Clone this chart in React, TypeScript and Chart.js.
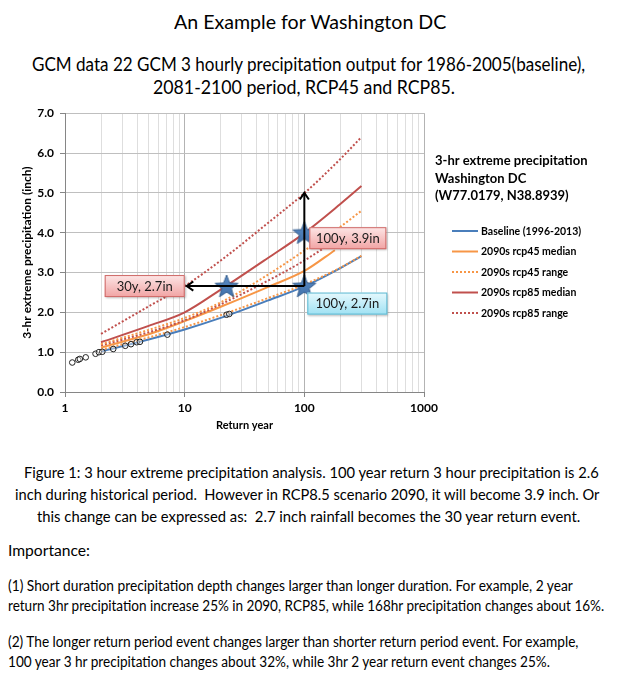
import React, { useEffect, useRef } from 'react';
import { Chart, registerables } from 'chart.js';

Chart.register(...registerables);

// ---------- data ----------
const returnYears = [2, 5, 10, 20, 50, 100, 200, 300];
const returnYearsShort = [2, 5, 10, 20, 50, 100, 180];
const baseline = [1.02, 1.32, 1.57, 1.86, 2.3, 2.65, 3.11, 3.41];
const rcp45Median = [1.12, 1.45, 1.78, 2.14, 2.64, 3.04, 3.56];
const rcp45Upper = [1.2, 1.56, 1.86, 2.25, 2.95, 3.55, 4.15, 4.55];
const rcp45Lower = [1.06, 1.37, 1.63, 1.93, 2.36, 2.7, 3.12, 3.42];
const rcp85Median = [1.25, 1.66, 2.0, 2.57, 3.37, 3.99, 4.72, 5.17];
const rcp85Upper = [1.46, 2.15, 2.66, 3.3, 4.25, 4.99, 5.85, 6.4];
const rcp85Lower = [1.17, 1.5, 1.8, 2.2, 2.8, 3.3, 3.8];
const obsYears = [1.15, 1.29, 1.33, 1.49, 1.8, 1.92, 2.05, 2.53, 3.19, 3.56, 3.97, 4.23, 7.17, 22.4, 23.6];
const obsPrecip = [0.74, 0.81, 0.83, 0.87, 0.96, 1.0, 1.01, 1.08, 1.16, 1.2, 1.25, 1.26, 1.44, 1.94, 1.96];
const starYears = [22.4, 100, 100];
const starPrecip = [2.66, 2.66, 4.0];
const arrowStart = { x: 100, y: 2.66 };
const arrowLeftEnd = { x: 10.4, y: 2.66 };
const arrowUpEnd = { x: 100, y: 5.0 };
const boxLabels = ['30y, 2.7in', '100y, 3.9in', '100y, 2.7in'];
const boxAnchorYears = [10.4, 100, 100];
const boxAnchorPrecip = [2.66, 4.0, 2.66];
const xTickLabels = [1, 10, 100, 1000];
const legendTitle = ['3-hr extreme precipitation', 'Washington DC', '(W77.0179, N38.8939)'];
const legendLabels = ['Baseline (1996-2013)', '2090s rcp45 median', '2090s rcp45 range', '2090s rcp85 median', '2090s rcp85 range'];

const BLUE = '#4a7ebb';
const ORANGE = '#f79646';
const RED = '#c0504d';
const DOT = [2, 2];

const legendStyles = [
  { color: BLUE, dash: [] as number[] },
  { color: ORANGE, dash: [] as number[] },
  { color: ORANGE, dash: DOT },
  { color: RED, dash: [] as number[] },
  { color: RED, dash: DOT },
];

const boxStyles = [
  { dx: -82, dy: -11, w: 80, h: 22, top: '#fde6e6', bottom: '#f1a3a3', stroke: '#cf6a68' },
  { dx: 5, dy: -5.5, w: 77, h: 22, top: '#fde6e6', bottom: '#f1a3a3', stroke: '#cf6a68' },
  { dx: 3, dy: 6.5, w: 80, h: 22, top: '#e6f9fd', bottom: '#9fe1f3', stroke: '#5fb9d3' },
];

const FONT = 'Lato';

// ---------- helpers ----------
const pts = (xs: number[], ys: number[]) => xs.map((x, i) => ({ x, y: ys[i] }));

function makeStar(r: number) {
  const c = document.createElement('canvas');
  const size = Math.ceil(r * 2 + 4);
  c.width = size;
  c.height = size;
  const g = c.getContext('2d')!;
  g.translate(size / 2, size / 2 + 1);
  g.beginPath();
  for (let i = 0; i < 10; i++) {
    const a = -Math.PI / 2 + (i * Math.PI) / 5;
    const rr = i % 2 === 0 ? r : r * 0.42;
    g.lineTo(rr * Math.cos(a), rr * Math.sin(a));
  }
  g.closePath();
  const grad = g.createLinearGradient(0, -r, 0, r);
  grad.addColorStop(0, '#5b8cc6');
  grad.addColorStop(1, '#3f6fa8');
  g.fillStyle = grad;
  g.fill();
  g.strokeStyle = '#345d8e';
  g.lineWidth = 1;
  g.stroke();
  return c;
}

function drawArrow(ctx: CanvasRenderingContext2D, x1: number, y1: number, x2: number, y2: number) {
  ctx.beginPath();
  ctx.moveTo(x1, y1);
  ctx.lineTo(x2, y2);
  ctx.stroke();
  const ang = Math.atan2(y2 - y1, x2 - x1);
  const L = 8;
  const a = 0.6;
  ctx.beginPath();
  ctx.moveTo(x2 - L * Math.cos(ang - a), y2 - L * Math.sin(ang - a));
  ctx.lineTo(x2, y2);
  ctx.lineTo(x2 - L * Math.cos(ang + a), y2 - L * Math.sin(ang + a));
  ctx.stroke();
}

const overlayPlugin = {
  id: 'overlay',
  afterDatasetsDraw(chart: any) {
    const { ctx, scales } = chart;
    const xs = scales.x;
    const ys = scales.y;
    const px = (v: number) => xs.getPixelForValue(v);
    const py = (v: number) => ys.getPixelForValue(v);
    ctx.save();
    ctx.strokeStyle = '#000';
    ctx.lineWidth = 2;
    ctx.lineCap = 'butt';
    drawArrow(ctx, px(arrowStart.x), py(arrowStart.y), px(arrowLeftEnd.x), py(arrowLeftEnd.y));
    drawArrow(ctx, px(arrowStart.x), py(arrowStart.y), px(arrowUpEnd.x), py(arrowUpEnd.y));
    boxLabels.forEach((t, i) => {
      const s = boxStyles[i];
      const x0 = px(boxAnchorYears[i]) + s.dx;
      const y0 = py(boxAnchorPrecip[i]) + s.dy;
      ctx.save();
      ctx.shadowColor = 'rgba(0,0,0,0.25)';
      ctx.shadowBlur = 2;
      ctx.shadowOffsetX = 1;
      ctx.shadowOffsetY = 1;
      const g = ctx.createLinearGradient(0, y0, 0, y0 + s.h);
      g.addColorStop(0, s.top);
      g.addColorStop(1, s.bottom);
      ctx.fillStyle = g;
      ctx.fillRect(x0, y0, s.w, s.h);
      ctx.restore();
      ctx.strokeStyle = s.stroke;
      ctx.lineWidth = 1;
      ctx.strokeRect(x0 + 0.5, y0 + 0.5, s.w - 1, s.h - 1);
      ctx.fillStyle = '#1a1a1a';
      ctx.font = `400 13px ${FONT}`;
      ctx.textAlign = 'center';
      ctx.textBaseline = 'middle';
      ctx.fillText(t, x0 + s.w / 2, y0 + s.h / 2 + 0.5);
    });
    ctx.restore();
  },
  afterDraw(chart: any) {
    const { ctx } = chart;
    const top = chart.canvas.offsetTop || 0;
    const oy = (pageY: number) => pageY - top;
    ctx.save();
    ctx.fillStyle = '#000';
    ctx.textAlign = 'left';
    ctx.textBaseline = 'alphabetic';
    ctx.font = `700 13px ${FONT}`;
    const titleBase = [165, 182.7, 200];
    legendTitle.forEach((t, i) => ctx.fillText(t, 435, oy(titleBase[i])));
    const itemY = [231, 251.5, 272, 292.5, 313];
    ctx.font = `700 10.5px ${FONT}`;
    ctx.textBaseline = 'middle';
    legendLabels.forEach((t, i) => {
      const y = oy(itemY[i]);
      const st = legendStyles[i];
      ctx.strokeStyle = st.color;
      ctx.lineWidth = 2;
      ctx.setLineDash(st.dash);
      ctx.beginPath();
      ctx.moveTo(452, y);
      ctx.lineTo(478, y);
      ctx.stroke();
      ctx.setLineDash([]);
      ctx.fillStyle = '#000';
      ctx.fillText(t, 481, y + 0.5);
    });
    ctx.restore();
  },
};

// ---------- text helper ----------
let measureCtx: CanvasRenderingContext2D | null = null;
function measure(text: string, size: number, weight: number) {
  if (!measureCtx) measureCtx = document.createElement('canvas').getContext('2d');
  measureCtx!.font = `${weight} ${size}px ${FONT}`;
  return measureCtx!.measureText(text).width;
}

function FitText(props: { text: string; left: number; width: number; cy: number; size: number; weight?: number }) {
  const { text, left, width, cy, size } = props;
  const weight = props.weight ?? 400;
  const w = measure(text, size, weight);
  const sx = w > 0 ? width / w : 1;
  return (
    <div
      style={{
        position: 'absolute',
        left,
        top: cy - 0.628 * size,
        fontFamily: FONT,
        fontSize: size,
        fontWeight: weight,
        lineHeight: 1.2,
        whiteSpace: 'pre',
        color: '#000',
        transform: `scaleX(${sx})`,
        transformOrigin: '0 0',
      }}
    >
      {text}
    </div>
  );
}

export default function App() {
  const ref = useRef<HTMLCanvasElement>(null);

  useEffect(() => {
    const canvas = ref.current!;
    const star = makeStar(12);
    const line = (data: any, color: string, dashed: boolean, order: number) => ({
      type: 'line',
      data,
      borderColor: color,
      backgroundColor: color,
      borderWidth: 2,
      borderDash: dashed ? DOT : [],
      pointRadius: 0,
      cubicInterpolationMode: 'monotone',
      fill: false,
      order,
    });
    const chart = new Chart(canvas, {
      type: 'line',
      data: {
        datasets: [
          {
            type: 'line',
            label: 'stars',
            data: pts(starYears, starPrecip),
            showLine: false,
            pointStyle: star as any,
            pointRadius: 12,
            order: 0,
          } as any,
          {
            type: 'line',
            label: 'observed',
            data: pts(obsYears, obsPrecip),
            showLine: false,
            pointStyle: 'circle',
            pointRadius: 2.8,
            borderWidth: 1,
            borderColor: '#222',
            backgroundColor: 'rgba(255,255,255,0.4)',
            order: 1,
          } as any,
          line(pts(returnYears, rcp45Lower), ORANGE, true, 2),
          line(pts(returnYears, rcp45Upper), ORANGE, true, 2),
          line(pts(returnYearsShort, rcp85Lower), RED, true, 3),
          line(pts(returnYearsShort, rcp45Median), ORANGE, false, 4),
          line(pts(returnYears, rcp85Upper), RED, true, 5),
          line(pts(returnYears, rcp85Median), RED, false, 5),
          line(pts(returnYears, baseline), BLUE, false, 6),
        ] as any,
      },
      options: {
        responsive: false,
        animation: false,
        events: [],
        layout: { padding: { left: 0, right: 196, top: 11, bottom: 0 }, autoPadding: false } as any,
        plugins: { legend: { display: false }, tooltip: { enabled: false } },
        scales: {
          x: {
            type: 'logarithmic',
            min: 1,
            max: 1000,
            afterBuildTicks: (scale: any) => {
              const vals: number[] = [];
              for (let d = 1; d < 1000; d *= 10) for (let m = 1; m < 10; m++) vals.push(m * d);
              vals.push(1000);
              scale.ticks = vals.map((v) => ({ value: v, major: xTickLabels.includes(v) }));
            },
            afterFit: (scale: any) => {
              scale.height = 53;
            },
            ticks: {
              autoSkip: false,
              maxRotation: 0,
              padding: 4,
              color: '#000',
              font: { family: FONT, size: 12, weight: 'bold' },
              callback: (v: any) => (xTickLabels.includes(Number(v)) ? String(v) : ''),
            },
            grid: {
              color: (c: any) => (c.tick && xTickLabels.includes(c.tick.value) ? '#b3b3b3' : '#dedede'),
              tickColor: (c: any) => (c.tick && xTickLabels.includes(c.tick.value) ? '#868686' : 'rgba(0,0,0,0)'),
              tickLength: 5,
            },
            border: { color: '#868686', width: 1 },
            title: {
              display: true,
              text: 'Return year',
              color: '#000',
              font: { family: FONT, size: 11, weight: 'bold' },
              padding: { top: 0, bottom: 13 },
            },
          },
          y: {
            type: 'linear',
            min: 0,
            max: 7,
            afterFit: (scale: any) => {
              scale.width = 65;
            },
            ticks: {
              stepSize: 1,
              padding: 6,
              color: '#000',
              font: { family: FONT, size: 12, weight: 'bold' },
              callback: (v: any) => Number(v).toFixed(1),
            },
            grid: { color: '#bfbfbf', tickColor: '#868686', tickLength: 5 },
            border: { color: '#868686', width: 1 },
            title: {
              display: true,
              text: '3-hr extreme precipitation (inch)',
              color: '#000',
              font: { family: FONT, size: 12, weight: 'bold' },
              padding: { top: 20, bottom: 0 },
            },
          },
        },
      } as any,
      plugins: [overlayPlugin as any],
    });
    return () => chart.destroy();
  }, []);

  return (
    <div style={{ position: 'absolute', left: 0, top: 0, width: 620, height: 679, background: '#fff', overflow: 'hidden' }}>
      <FitText text="An Example for Washington DC" left={174} width={273} cy={22.5} size={19} />
      <FitText text="GCM data 22 GCM 3 hourly precipitation output for 1986-2005(baseline)," left={32} width={554} cy={65} size={18.5} />
      <FitText text="2081-2100 period, RCP45 and RCP85." left={153} width={302} cy={88} size={18.5} />
      <canvas
        ref={ref}
        width={620}
        height={345}
        style={{ position: 'absolute', left: 0, top: 100, width: 620, height: 345 }}
      />
      <FitText text="Figure 1: 3 hour extreme precipitation analysis. 100 year return 3 hour precipitation is 2.6" left={24} width={576} cy={471.7} size={16} />
      <FitText text="inch during historical period.  However in RCP8.5 scenario 2090, it will become 3.9 inch. Or" left={15} width={585} cy={494} size={16} />
      <FitText text="this change can be expressed as:  2.7 inch rainfall becomes the 30 year return event." left={37} width={544} cy={516.3} size={16} />
      <FitText text="Importance:" left={8} width={82} cy={550.5} size={15.5} />
      <FitText text="(1) Short duration precipitation depth changes larger than longer duration. For example, 2 year" left={8} width={566} cy={586.3} size={14.5} />
      <FitText text="return 3hr precipitation increase 25% in 2090, RCP85, while 168hr precipitation changes about 16%." left={8} width={597} cy={605.8} size={14.5} />
      <FitText text="(2) The longer return period event changes larger than shorter return period event. For example," left={8} width={572} cy={641.7} size={14.5} />
      <FitText text="100 year 3 hr precipitation changes about 32%, while 3hr 2 year return event changes 25%." left={8} width={544} cy={661.7} size={14.5} />
    </div>
  );
}
